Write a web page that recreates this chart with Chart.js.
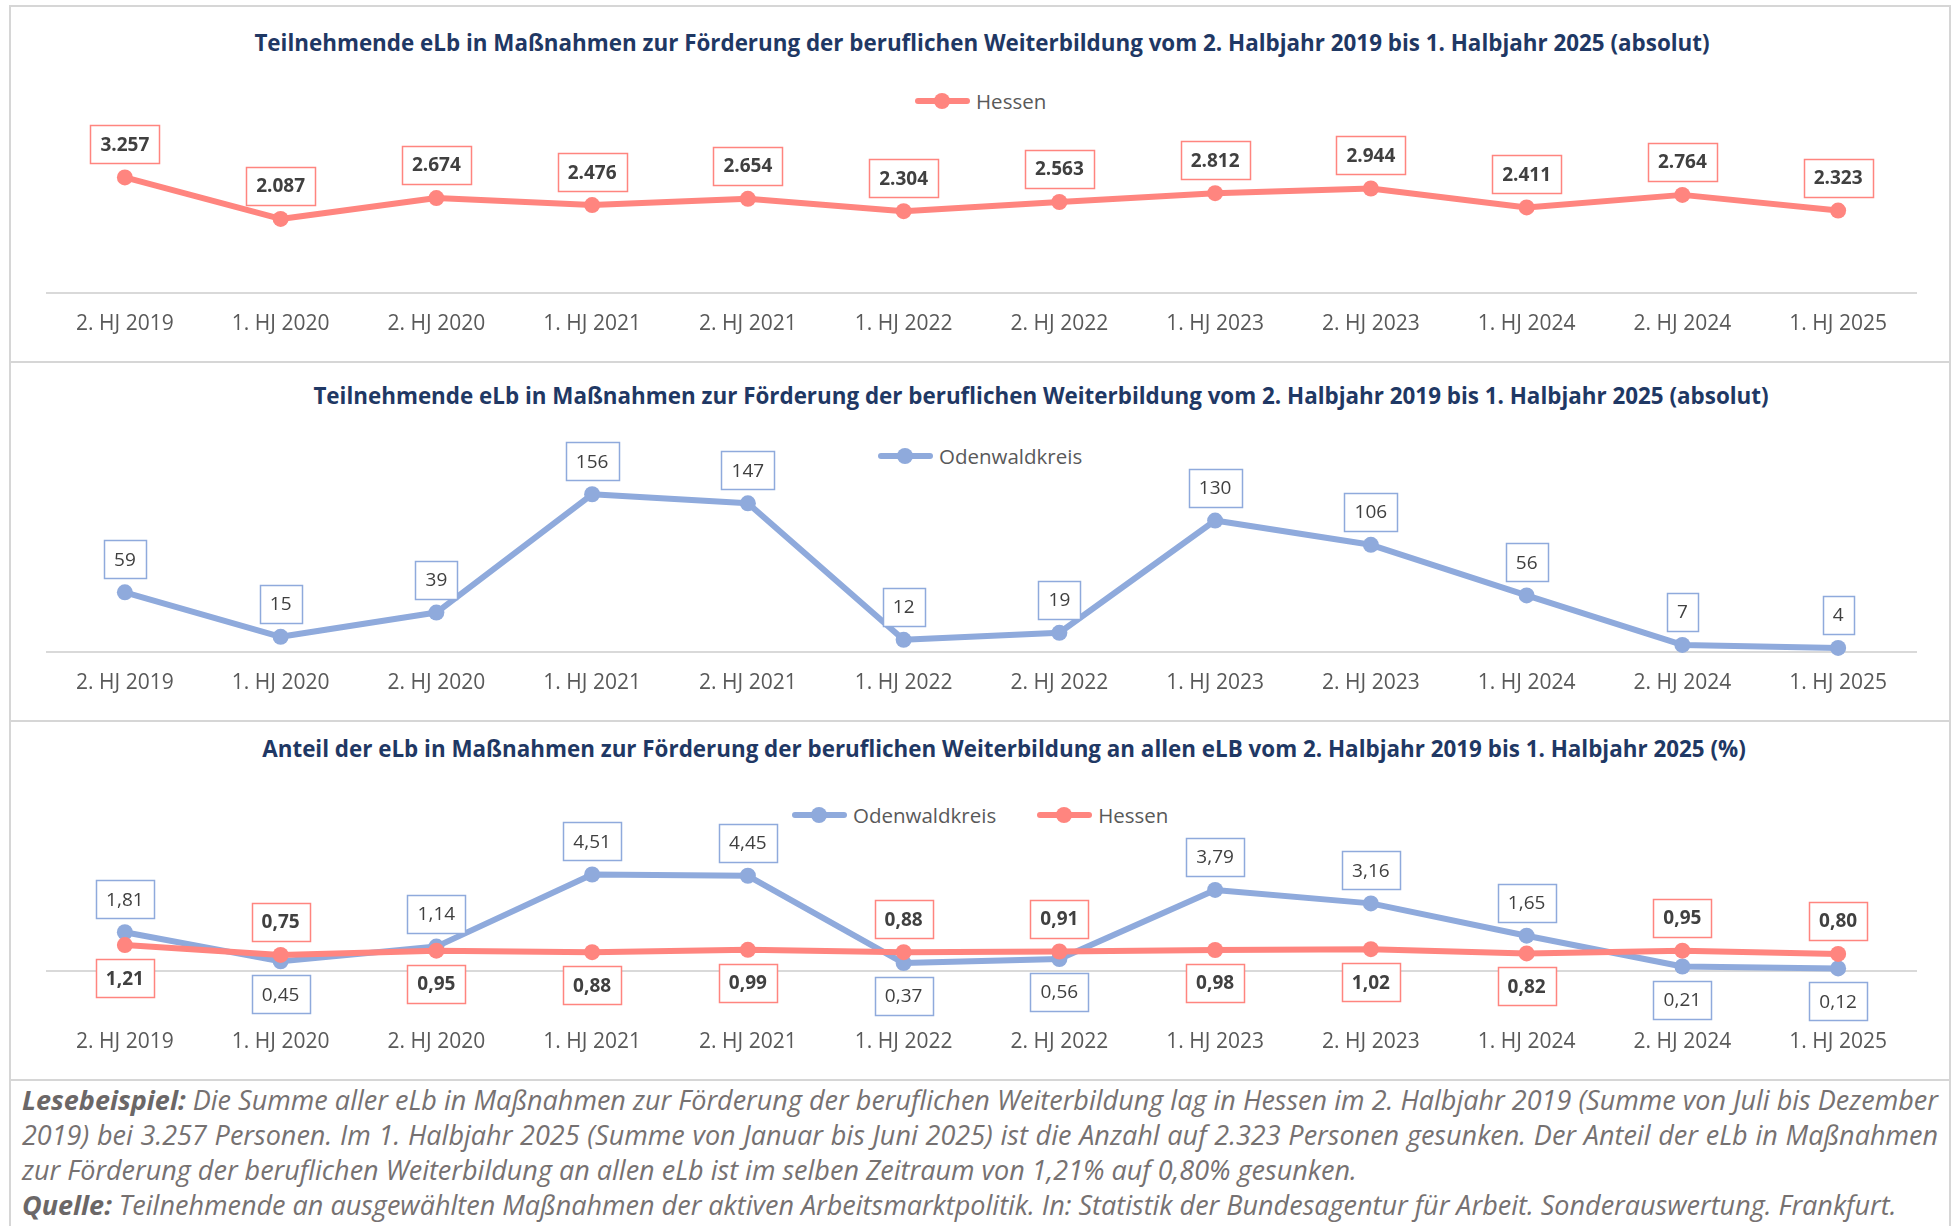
<!DOCTYPE html>
<html lang="de">
<head>
<meta charset="utf-8">
<title>eLb in Maßnahmen zur Förderung der beruflichen Weiterbildung</title>
<script src="https://cdn.jsdelivr.net/npm/chart.js@4.4.1/dist/chart.umd.min.js"></script>
<style>
  html, body { margin: 0; padding: 0; background: #fff; }
  body { position: relative; width: 1959px; height: 1226px; overflow: hidden; font-family: "Open Sans", Lato, sans-serif; }
  .frame { position: absolute; left: 9px; width: 1942px; box-sizing: border-box; border: 2px solid #d6d6d6; border-bottom: none; }
  canvas { position: absolute; left: 0; }
  .title { position: absolute; width: 2000px; text-align: center; line-height: 30px; font-size: 22.4px; font-weight: bold; color: #1f3864; white-space: nowrap; }
  .legend { position: absolute; height: 24px; display: flex; align-items: center; font-size: 20.5px; color: #595959; white-space: nowrap; }
  .legend .icon { position: relative; width: 55px; height: 16px; margin-right: 6px; }
  .legend .icon::before { content: ""; position: absolute; left: 0; right: 0; top: 5px; height: 6px; border-radius: 3px; background: currentColor; }
  .legend .icon::after { content: ""; position: absolute; left: 19px; top: 0; width: 16px; height: 16px; border-radius: 50%; background: currentColor; }
  .legend .name { color: #595959; margin-right: 41px; }
  .note { position: absolute; left: 22px; top: 1082px; width: 1916px; font-size: 27px; line-height: 35px; font-style: italic; color: #767171; }
  .note .j { text-align: justify; text-align-last: justify; }
  .note b { color: #6b6767; }
</style>
</head>
<body>

<div class="frame" style="top:5px;height:356px"></div>
<div class="frame" style="top:361px;height:359px"></div>
<div class="frame" style="top:720px;height:359px"></div>
<div class="frame" style="top:1079px;height:160px"></div>

<div class="title" style="left:-18px;top:28px">Teilnehmende eLb in Maßnahmen zur Förderung der beruflichen Weiterbildung vom 2. Halbjahr 2019 bis 1. Halbjahr 2025 (absolut)</div>
<div class="legend" style="left:915px;top:89px"><span class="icon" style="color:#ff857f"></span><span class="name">Hessen</span></div>
<canvas id="chartHessen" width="1959" height="356" style="top:5px"></canvas>

<div class="title" style="left:41px;top:381px">Teilnehmende eLb in Maßnahmen zur Förderung der beruflichen Weiterbildung vom 2. Halbjahr 2019 bis 1. Halbjahr 2025 (absolut)</div>
<div class="legend" style="left:878px;top:444px"><span class="icon" style="color:#8faadc"></span><span class="name">Odenwaldkreis</span></div>
<canvas id="chartOdenwald" width="1959" height="359" style="top:361px"></canvas>

<div class="title" style="left:4px;top:734px">Anteil der eLb in Maßnahmen zur Förderung der beruflichen Weiterbildung an allen eLB vom 2. Halbjahr 2019 bis 1. Halbjahr 2025 (%)</div>
<div class="legend" style="left:792px;top:803px"><span class="icon" style="color:#8faadc"></span><span class="name">Odenwaldkreis</span><span class="icon" style="color:#ff857f"></span><span class="name">Hessen</span></div>
<canvas id="chartAnteil" width="1959" height="359" style="top:720px"></canvas>

<div class="note">
  <div class="j"><b>Lesebeispiel:</b> Die Summe aller eLb in Maßnahmen zur Förderung der beruflichen Weiterbildung lag in Hessen im 2. Halbjahr 2019 (Summe von Juli bis Dezember</div>
  <div class="j">2019) bei 3.257 Personen. Im 1. Halbjahr 2025 (Summe von Januar bis Juni 2025) ist die Anzahl auf 2.323 Personen gesunken. Der Anteil der eLb in Maßnahmen</div>
  <div>zur Förderung der beruflichen Weiterbildung an allen eLb ist im selben Zeitraum von 1,21% auf 0,80% gesunken.</div>
  <div><b>Quelle:</b> Teilnehmende an ausgewählten Maßnahmen der aktiven Arbeitsmarktpolitik. In: Statistik der Bundesagentur für Arbeit. Sonderauswertung. Frankfurt.</div>
</div>

<script>
// ---- data ----
const categories = [
  "2. HJ 2019", "1. HJ 2020", "2. HJ 2020", "1. HJ 2021", "2. HJ 2021", "1. HJ 2022",
  "2. HJ 2022", "1. HJ 2023", "2. HJ 2023", "1. HJ 2024", "2. HJ 2024", "1. HJ 2025"
];
const hessenAbsolut = [3257, 2087, 2674, 2476, 2654, 2304, 2563, 2812, 2944, 2411, 2764, 2323];
const odenwaldAbsolut = [59, 15, 39, 156, 147, 12, 19, 130, 106, 56, 7, 4];
const odenwaldAnteil = [1.81, 0.45, 1.14, 4.51, 4.45, 0.37, 0.56, 3.79, 3.16, 1.65, 0.21, 0.12];
const hessenAnteil = [1.21, 0.75, 0.95, 0.88, 0.99, 0.88, 0.91, 0.98, 1.02, 0.82, 0.95, 0.80];

const BLUE = "#8faadc";
const RED = "#ff857f";
const FONT = '"Open Sans", Lato, sans-serif';

// German number format: 3.257 / 1,81
function fmtDe(v, decimals) {
  const parts = v.toFixed(decimals).split(".");
  const whole = parts[0].replace(/\B(?=(\d{3})+(?!\d))/g, ".");
  return parts[1] ? whole + "," + parts[1] : whole;
}

// boxed data labels, above the point unless the other series is higher here
const boxLabels = {
  id: "boxLabels",
  afterDatasetsDraw(chart) {
    const ctx = chart.ctx;
    const sets = chart.data.datasets;
    sets.forEach((ds, di) => {
      const other = sets.find((s) => s !== ds);
      chart.getDatasetMeta(di).data.forEach((pt, i) => {
        const v = ds.data[i];
        const up = !other || v >= other.data[i];
        const text = fmtDe(v, ds.decimals);
        ctx.save();
        ctx.font = (ds.boldLabels ? "bold " : "") + "19px " + FONT;
        const w = Math.round(ctx.measureText(text).width + 20);
        const h = 38;
        const cy = pt.y + (up ? -33 : 33);
        const x0 = Math.round(pt.x - w / 2) + 0.5;
        const y0 = Math.round(cy - h / 2) + 0.5;
        ctx.fillStyle = "#fff";
        ctx.fillRect(x0, y0, w, h);
        ctx.strokeStyle = ds.borderColor;
        ctx.lineWidth = 1.5;
        ctx.strokeRect(x0, y0, w, h);
        ctx.fillStyle = "#404040";
        ctx.textAlign = "center";
        ctx.textBaseline = "middle";
        ctx.fillText(text, pt.x, cy + 1);
        ctx.restore();
      });
    });
  },
};

function series(label, data, color, decimals, bold, order) {
  return {
    label,
    data,
    borderColor: color,
    backgroundColor: color,
    pointBackgroundColor: color,
    borderWidth: 6,
    borderCapStyle: "round",
    borderJoinStyle: "round",
    pointRadius: 8,
    pointHoverRadius: 8,
    pointBorderWidth: 0,
    tension: 0,
    clip: false,
    decimals,
    boldLabels: bold,
    order,
  };
}

function makeChart(id, datasets, yMax, padTop, tickPad, axisH) {
  const canvas = document.getElementById(id);
  return new Chart(canvas, {
    type: "line",
    data: { labels: categories, datasets },
    options: {
      responsive: false,
      animation: false,
      events: [],
      layout: { padding: { left: 47, right: 43, top: padTop, bottom: 18 } },
      plugins: { legend: { display: false }, tooltip: { enabled: false } },
      scales: {
        x: {
          offset: true,
          grid: { display: false, drawTicks: false },
          border: { display: true, color: "#d9d9d9", width: 2 },
          ticks: {
            color: "#595959",
            font: { family: FONT, size: 21 },
            padding: tickPad,
            maxRotation: 0,
            autoSkip: false,
          },
          afterFit: (scale) => { scale.height = axisH; },
        },
        y: { display: false, min: 0, max: yMax },
      },
    },
    plugins: [boxLabels],
  });
}

makeChart("chartHessen", [series("Hessen", hessenAbsolut, RED, 0, true, 0)], 4000, 146, 18, 50);
makeChart("chartOdenwald", [series("Odenwaldkreis", odenwaldAbsolut, BLUE, 0, false, 0)], 180, 109, 18, 50);
makeChart("chartAnteil", [
  series("Odenwaldkreis", odenwaldAnteil, BLUE, 2, false, 1),
  series("Hessen", hessenAnteil, RED, 2, true, 0),
], 5, 144, 58, 90);
</script>
</body>
</html>
